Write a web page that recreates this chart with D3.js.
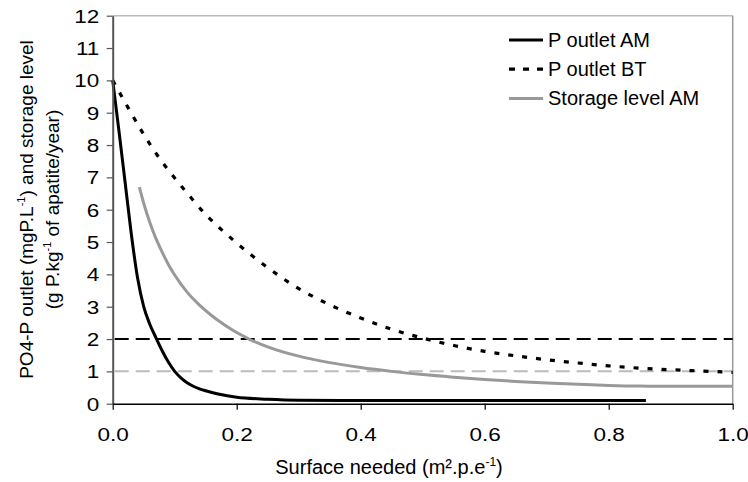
<!DOCTYPE html>
<html><head><meta charset="utf-8">
<script src="https://cdn.jsdelivr.net/npm/d3@7"></script>
<style>
body{margin:0;background:#fff;}
svg{display:block;font-family:"Liberation Sans",Arial,sans-serif;}
</style></head>
<body><svg id="c" width="748" height="482"></svg>
<script>
// ---- data ----
const amX = [0, 0.01, 0.02, 0.03, 0.04, 0.05, 0.06, 0.07, 0.08, 0.09, 0.1, 0.11, 0.12, 0.13, 0.14, 0.15, 0.17, 0.2, 0.25, 0.3, 0.4, 0.5, 0.6, 0.7, 0.8, 0.86];
const amY = [10, 8.45, 6.85, 5.25, 3.9, 3.0, 2.45, 2.03, 1.63, 1.28, 1.0, 0.8, 0.65, 0.54, 0.46, 0.4, 0.3, 0.2, 0.14, 0.11, 0.1, 0.1, 0.1, 0.1, 0.1, 0.1];
const btX = [0, 0.025, 0.05, 0.075, 0.1, 0.125, 0.15, 0.175, 0.2, 0.25, 0.3, 0.35, 0.4, 0.45, 0.5, 0.55, 0.6, 0.65, 0.7, 0.75, 0.8, 0.85, 0.9, 0.95, 1.0];
const btY = [10, 9.15, 8.33, 7.6, 6.98, 6.4, 5.85, 5.39, 4.97, 4.21, 3.56, 3.06, 2.65, 2.3, 2.03, 1.8, 1.62, 1.48, 1.36, 1.26, 1.17, 1.10, 1.05, 1.01, 0.97];
const stX = [0.043, 0.05, 0.06, 0.07, 0.08, 0.09, 0.1, 0.12, 0.14, 0.16, 0.18, 0.2, 0.22, 0.25, 0.3, 0.35, 0.4, 0.45, 0.5, 0.55, 0.6, 0.65, 0.7, 0.75, 0.8, 0.85, 0.9, 1.0];
const stY = [6.7, 6.2, 5.6, 5.1, 4.68, 4.3, 3.98, 3.45, 3.05, 2.72, 2.44, 2.2, 2.0, 1.76, 1.47, 1.27, 1.12, 1.0, 0.9, 0.82, 0.75, 0.69, 0.64, 0.6, 0.565, 0.545, 0.54, 0.54];
const refLevels = [2, 1];
const xTicks = [0, 0.2, 0.4, 0.6, 0.8, 1.0];
const yTicks = [0,1,2,3,4,5,6,7,8,9,10,11,12];
const legendLabels = ["P outlet AM", "P outlet BT", "Storage level AM"];

// ---- layout ----
const svg = d3.select("#c");
const x = d3.scaleLinear().domain([0, 1]).range([112.7, 732.7]);
const y = d3.scaleLinear().domain([0, 12]).range([403.7, 15.7]);
const SX = 1.25; // horizontal text stretch for tick labels

// frame: top and right borders
svg.append("line").attr("x1", x(0)).attr("x2", x(1)).attr("y1", y(12)).attr("y2", y(12))
  .attr("stroke", "#bbb").attr("stroke-width", 1.5);
svg.append("line").attr("x1", x(1)).attr("x2", x(1)).attr("y1", y(12)).attr("y2", y(0))
  .attr("stroke", "#999").attr("stroke-width", 1.5);

// reference lines
const refStyles = [{c:"#000", w:2}, {c:"#bbb", w:2}];
refLevels.forEach((v, i) => {
  svg.append("line").attr("x1", x(0)).attr("x2", x(1)).attr("y1", y(v)).attr("y2", y(v))
    .attr("stroke", refStyles[i].c).attr("stroke-width", refStyles[i].w)
    .attr("stroke-dasharray", "14,7").attr("stroke-dashoffset", -2);
});

// series
const line = d3.line().x(d => x(d[0])).y(d => y(d[1])).curve(d3.curveMonotoneX);
const series = [
  {xs: stX, ys: stY, c: "#999", w: 3, dash: null},
  {xs: btX, ys: btY, c: "#000", w: 3.2, dash: "5,9"},
  {xs: amX, ys: amY, c: "#000", w: 3, dash: null}
];
series.forEach(s => {
  svg.append("path").datum(d3.zip(s.xs, s.ys)).attr("d", line)
    .attr("fill", "none").attr("stroke", s.c).attr("stroke-width", s.w)
    .attr("stroke-dasharray", s.dash);
});

// axes
const yAxis = svg.append("g").attr("transform", `translate(${x(0)},0)`)
  .call(d3.axisLeft(y).tickValues(yTicks).tickFormat(d3.format("d")).tickSize(6).tickSizeOuter(0));
yAxis.select(".domain").attr("stroke", "#555").attr("stroke-width", 2);
yAxis.selectAll(".tick line").attr("stroke", "#555").attr("stroke-width", 1.2);
yAxis.selectAll(".tick text").attr("font-size", 18).attr("fill", "#000")
  .attr("font-family", "Liberation Sans, Arial, sans-serif")
  .attr("x", -13.4 / SX).attr("dy", "0.35em").attr("transform", `scale(${SX},1)`);

const xAxis = svg.append("g").attr("transform", `translate(0,${y(0)})`)
  .call(d3.axisBottom(x).tickValues(xTicks).tickFormat(d3.format(".1f")).tickSize(6).tickSizeOuter(0));
xAxis.select(".domain").attr("stroke", "#000").attr("stroke-width", 1.5);
xAxis.selectAll(".tick line").attr("stroke", "#000").attr("stroke-width", 1.2);
xAxis.selectAll(".tick text").attr("font-size", 18).attr("fill", "#000")
  .attr("font-family", "Liberation Sans, Arial, sans-serif")
  .attr("y", 37.3).attr("dy", 0).attr("transform", `scale(${SX},1)`);

// axis titles
const xt = svg.append("text").attr("x", 389).attr("y", 474).attr("text-anchor", "middle")
  .attr("font-size", 20).attr("fill", "#000");
xt.append("tspan").text("Surface needed (m².p.e");
xt.append("tspan").attr("font-size", 12).attr("dy", -8).text("-1");
xt.append("tspan").attr("dy", 8).text(")");

const yt1 = svg.append("text").attr("transform", "translate(33,209.5) rotate(-90)")
  .attr("text-anchor", "middle").attr("font-size", 19).attr("fill", "#000");
yt1.append("tspan").text("PO4-P outlet (mgP.L");
yt1.append("tspan").attr("font-size", 11).attr("dy", -8).text("-1");
yt1.append("tspan").attr("dy", 8).text(") and storage level");

const yt2 = svg.append("text").attr("transform", "translate(59,209.5) rotate(-90)")
  .attr("text-anchor", "middle").attr("font-size", 19).attr("fill", "#000");
yt2.append("tspan").text("(g P.kg");
yt2.append("tspan").attr("font-size", 11).attr("dy", -8).text("-1");
yt2.append("tspan").attr("dy", 8).text(" of apatite/year)");

// legend
const legStyles = [{c:"#000", w:3, dash:null}, {c:"#000", w:3.2, dash:"6,8"}, {c:"#999", w:3, dash:null}];
legendLabels.forEach((lab, i) => {
  const cy = 40 + i * 29.2;
  svg.append("line").attr("x1", 509).attr("x2", 543).attr("y1", cy).attr("y2", cy)
    .attr("stroke", legStyles[i].c).attr("stroke-width", legStyles[i].w)
    .attr("stroke-dasharray", legStyles[i].dash);
  svg.append("text").attr("x", 548).attr("y", cy + 6.7).attr("font-size", 20).attr("fill", "#000").text(lab);
});
</script></body></html>
